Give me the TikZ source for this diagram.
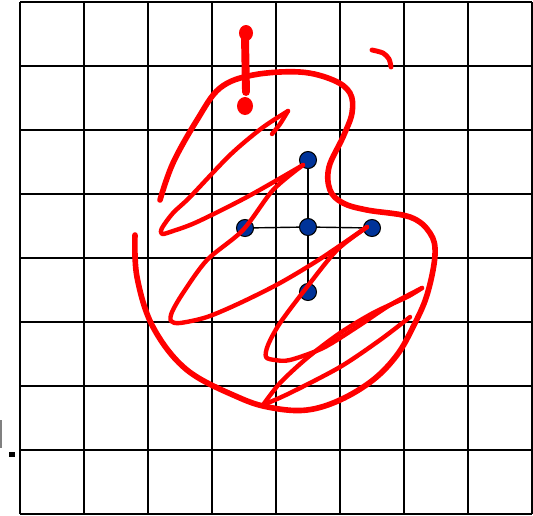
\documentclass[tikz,border=0pt]{standalone}
\usepackage{xcolor}
\usetikzlibrary{positioning}
\definecolor{dotblue}{HTML}{003399}
\definecolor{inkred}{HTML}{FF0000}
\definecolor{bargray}{HTML}{808080}

\begin{document}
\begin{tikzpicture}[
  x=0.02cm, y=-0.02cm,
  gridline/.style={draw=black, line width=1.15pt},
  dot/.style={circle, draw=black, fill=dotblue, line width=0.6pt, minimum size=0.34cm, inner sep=0pt},
  link/.style={draw=black, line width=0.8pt},
  ink/.style={draw=inkred, line width=2.5pt, line cap=round, line join=round},
  thickink/.style={ink, line width=3.2pt}
]
  \useasboundingbox (0,0) rectangle (533,515);
  % grid
  \foreach \k in {0,...,8} {
    \draw[gridline] (20+64*\k,2) -- (20+64*\k,514);
    \draw[gridline] (20,2+64*\k) -- (532,2+64*\k);
  }
  % cut-off mark at the left edge
  \draw[bargray, line width=1.1pt] (1,420) -- (1,448);
  \fill[black] (9,452) rectangle (15,457);

  % the five points
  \node[dot] (ctr) at (308,227) {};
  \node[dot, on grid, above=1.34cm of ctr] (up) {};
  \node[dot, on grid, left=1.26cm of ctr, yshift=-0.02cm] (lft) {};
  \node[dot, on grid, right=1.28cm of ctr, yshift=-0.02cm] (rgt) {};
  \node[dot, on grid, below=1.30cm of ctr] (dwn) {};
  \draw[link] (ctr) -- (up);
  \draw[link] (ctr) -- (lft);
  \draw[link] (ctr) -- (rgt);
  \draw[link] (ctr) -- (dwn);

  % big loop
  \draw[thickink] plot[smooth, tension=0.6] coordinates {
    (135,235) (137,277) (153,327) (187,370) (240,398) (273,408) (307,410)
    (340,400) (373,380) (397,355) (413,327) (427,295) (435,255) (430,233)
    (410,217) (367,210) (343,203) (330,190) (329,167) (343,137) (352,113)
    (350,93) (333,80) (300,72) (253,75) (220,88) (197,120) (173,163) (160,200)};

  % zigzag
  \draw[ink] plot[smooth] coordinates {(272,134) (280,124) (288,111)};
  \draw[ink] plot[smooth, tension=0.5] coordinates {
    (288,111) (262,128) (230,155) (190,197) (173,213) (162,228) (162,234)
    (173,231) (197,222) (247,197) (303,165)};
  \draw[ink] plot[smooth, tension=0.5] coordinates {
    (303,165) (273,190) (243,230) (207,260) (183,293) (172,312) (171,321)
    (180,323) (207,317) (240,303) (280,283) (320,259) (367,227)};
  \draw[ink] plot[smooth, tension=0.5] coordinates {
    (367,227) (337,250) (307,287) (280,323) (268,345) (266,357) (275,360)
    (290,360) (323,348) (357,327) (390,305) (422,288)};
  \draw[ink] plot[smooth, tension=0.5] coordinates {
    (422,288) (407,297) (373,313) (340,333) (307,358) (280,383) (263,405)};
  \draw[ink] plot[smooth, tension=0.5] coordinates {
    (263,405) (290,393) (340,367) (380,340) (410,317)};

  % exclamation mark and hook
  \fill[inkred] (246,33) ellipse [x radius=7, y radius=8];
  \draw[inkred, line width=4.5pt, line cap=round] (245,38) -- (246,92);
  \fill[inkred] (245,106) ellipse [x radius=8, y radius=9];
  \draw[ink, line width=2.8pt] plot[smooth] coordinates {(372,50) (383,53) (389,59) (391,67)};
\end{tikzpicture}
\end{document}
